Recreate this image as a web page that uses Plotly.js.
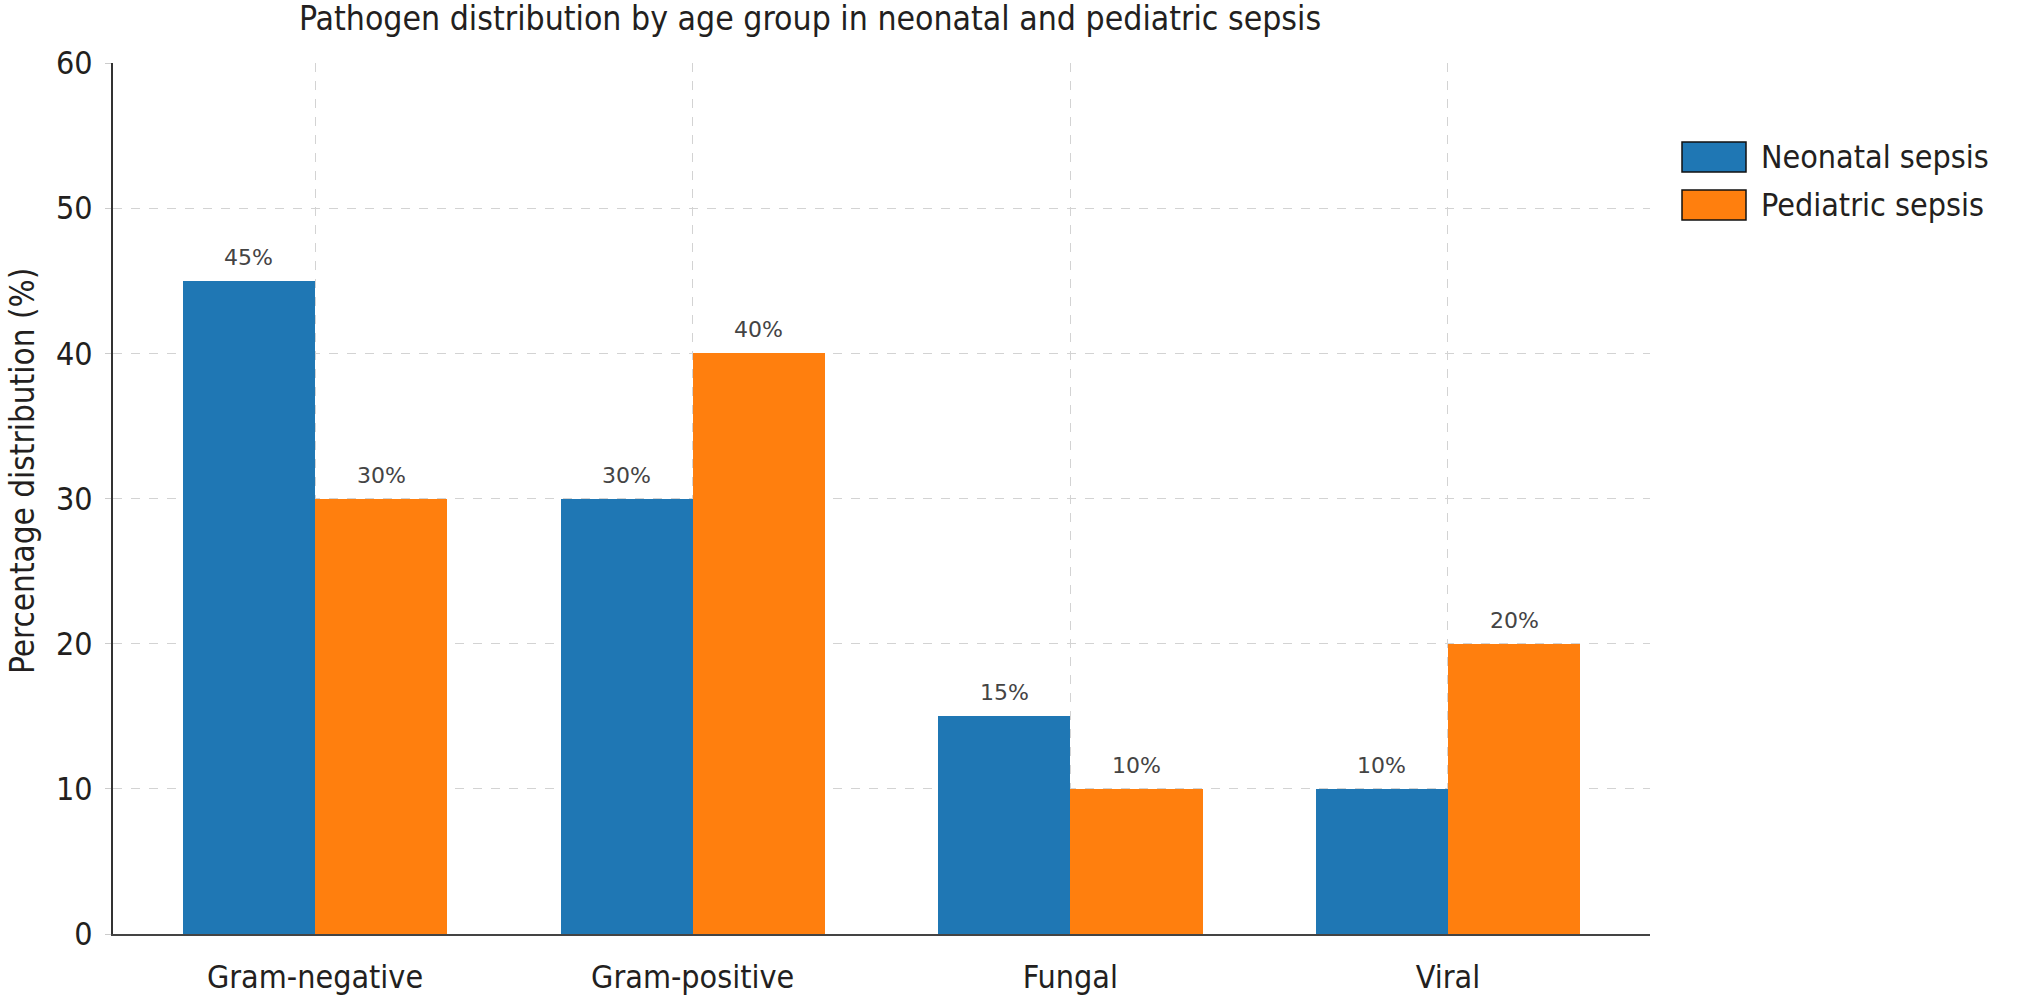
<!DOCTYPE html>
<html>
<head>
<meta charset="utf-8">
<script src="https://cdn.plot.ly/plotly-3.0.1.min.js"></script>
<style>html,body{margin:0;padding:0;background:#fff;}#chart{width:2027px;height:1002px;}</style>
</head>
<body>
<div id="chart"></div>
<script>
const categories = ["Gram-negative", "Gram-positive", "Fungal", "Viral"];
const neonatal = [45, 30, 15, 10];
const pediatric = [30, 40, 10, 20];
const seriesNames = ["Neonatal sepsis", "Pediatric sepsis"];
const seriesColors = ["#1f77b4", "#ff7f0e"];
const yTicks = [0, 10, 20, 30, 40, 50, 60];

const FONT = "DejaVu Sans Condensed, DejaVu Sans, sans-serif";
const TXT = "#231f20";
const barW = 0.35;

const W = 2027, H = 1002;
const M = {l: 113, r: 377, t: 63, b: 68};
const PW = W - M.l - M.r, PH = H - M.t - M.b;
const px = x => (x - M.l) / PW;
const py = y => (H - M.b - y) / PH;

const series = [neonatal, pediatric];
const traces = series.map((vals, i) => ({
  type: "bar",
  name: seriesNames[i],
  x: categories.map((c, k) => k + (i === 0 ? -barW / 2 : barW / 2)),
  y: vals,
  width: barW,
  marker: {color: seriesColors[i], line: {width: 0}},
  showlegend: false,
  hoverinfo: "x+y"
}));

const annotations = [];
series.forEach((vals, i) => {
  vals.forEach((v, k) => {
    annotations.push({
      x: k + (i === 0 ? -barW / 2 : barW / 2), y: v, xref: "x", yref: "y",
      text: v + "%", showarrow: false, yanchor: "bottom", yshift: 9,
      font: {family: "DejaVu Sans, sans-serif", size: 22, color: "#444444"}
    });
  });
});

// y-axis title
annotations.push({
  xref: "paper", yref: "paper", x: px(22), y: py(471),
  xanchor: "center", yanchor: "middle", textangle: -90,
  text: "Percentage distribution (%)", showarrow: false,
  font: {family: FONT, size: 33, color: TXT}
});

const shapes = [];
seriesNames.forEach((n, i) => {
  const top = 142 + i * 48;
  shapes.push({
    type: "rect", xref: "paper", yref: "paper",
    x0: px(1682), x1: px(1746), y0: py(top), y1: py(top + 30),
    fillcolor: seriesColors[i], line: {color: "#111", width: 1.5}
  });
  annotations.push({
    xref: "paper", yref: "paper", x: px(1759), y: py(top + 15),
    xanchor: "left", yanchor: "middle", text: n, showarrow: false,
    font: {family: FONT, size: 32, color: TXT}
  });
});

const layout = {
  width: W, height: H,
  margin: M,
  paper_bgcolor: "#fff", plot_bgcolor: "#fff",
  title: {
    text: "Pathogen distribution by age group in neonatal and pediatric sepsis",
    font: {family: FONT, size: 33.5, color: TXT},
    xref: "paper", x: px(810), xanchor: "center",
    yref: "container", y: 1 - 18 / H, yanchor: "middle"
  },
  xaxis: {
    type: "linear",
    range: [-0.535, 3.535],
    tickvals: categories.map((c, k) => k),
    ticktext: categories,
    showgrid: true, gridcolor: "#d3d3d3", gridwidth: 1, griddash: "dash",
    zeroline: false,
    showline: true, linecolor: "#444", linewidth: 2,
    ticks: "", ticklabelstandoff: 14,
    tickfont: {family: FONT, size: 32, color: TXT}
  },
  yaxis: {
    range: [0, 60],
    tickvals: yTicks,
    showgrid: true, gridcolor: "#d3d3d3", gridwidth: 1, griddash: "dash",
    zeroline: false,
    showline: true, linecolor: "#333", linewidth: 2,
    ticks: "outside", ticklen: 6, tickcolor: "#cccccc", tickwidth: 1,
    ticklabelstandoff: 6,
    tickfont: {family: FONT, size: 32, color: TXT}
  },
  annotations: annotations,
  shapes: shapes,
  showlegend: false,
  bargap: 0
};

Plotly.newPlot("chart", traces, layout, {displayModeBar: false, staticPlot: true});
</script>
</body>
</html>
